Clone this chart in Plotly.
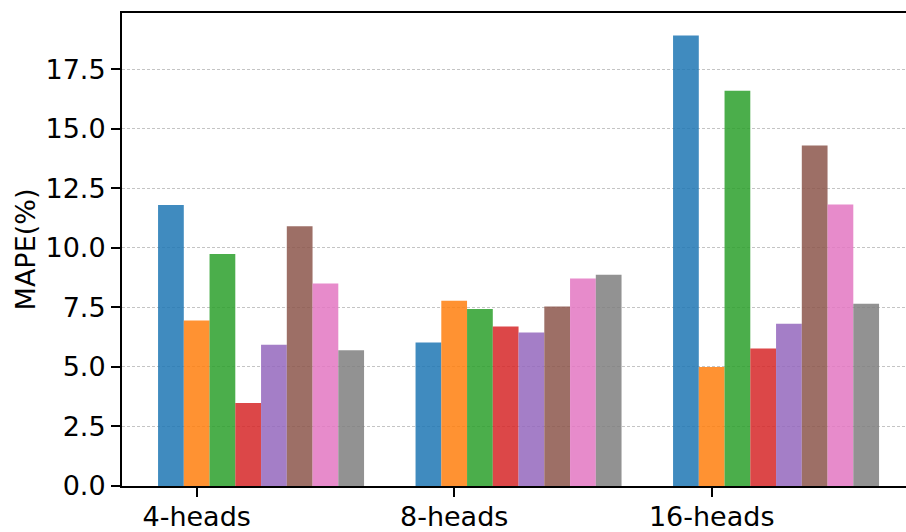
import plotly.graph_objects as go

categories = ["4-heads", "8-heads", "16-heads"]
series_names = ["S1", "S2", "S3", "S4", "S5", "S6", "S7", "S8"]
s1 = [11.80, 6.03, 18.92]
s2 = [6.95, 7.78, 5.00]
s3 = [9.74, 7.43, 16.60]
s4 = [3.49, 6.70, 5.77]
s5 = [5.93, 6.45, 6.81]
s6 = [10.91, 7.54, 14.30]
s7 = [8.51, 8.71, 11.82]
s8 = [5.70, 8.87, 7.65]
y_ticks = [0.0, 2.5, 5.0, 7.5, 10.0, 12.5, 15.0, 17.5]

series = [s1, s2, s3, s4, s5, s6, s7, s8]
colors = ["#1f77b4", "#ff7f0e", "#2ca02c", "#d62728",
          "#9467bd", "#8c564b", "#e377c2", "#7f7f7f"]

bar_w = 0.1
fig = go.Figure()
for k, (name, vals) in enumerate(zip(series_names, series)):
    xs = [i + (k - 1) * bar_w for i in range(len(categories))]
    fig.add_trace(go.Bar(
        x=xs, y=vals, width=bar_w, name=name,
        marker=dict(color=colors[k], opacity=0.85, line=dict(width=0)),
        showlegend=False,
    ))

ymax = max(max(v) for v in series) * 1.05
font = dict(family="DejaVu Sans", size=27, color="#000000")

fig.update_layout(
    width=906, height=532,
    margin=dict(l=122, r=0, t=13, b=46),
    paper_bgcolor="white", plot_bgcolor="white",
    font=font,
    barmode="overlay",
    xaxis=dict(
        range=[-0.29, -0.29 + 784 / 257.5],
        tickvals=list(range(len(categories))), ticktext=categories,
        showline=True, linecolor="black", linewidth=2, mirror=True,
        ticks="outside", ticklen=9, tickwidth=2, tickcolor="black",
        showgrid=False, zeroline=False, automargin=False,
        ticklabelstandoff=-3,
        tickfont=font,
    ),
    yaxis=dict(
        range=[0, ymax],
        tickvals=y_ticks, ticktext=[f"{t:.1f}" for t in y_ticks],
        showline=True, linecolor="black", linewidth=2, mirror=False,
        ticks="outside", ticklen=9, tickwidth=2, tickcolor="black",
        showgrid=True, gridcolor="#c4c4c4", gridwidth=1, griddash="3px,2px",
        zeroline=False, automargin=False,
        title=dict(text="MAPE(%)", font=font, standoff=2),
        tickfont=font,
    ),
)

fig.write_html(
    "out.html",
    config={"displayModeBar": False},
    post_script="document.body.style.margin='0';document.body.style.overflow='hidden';",
)
